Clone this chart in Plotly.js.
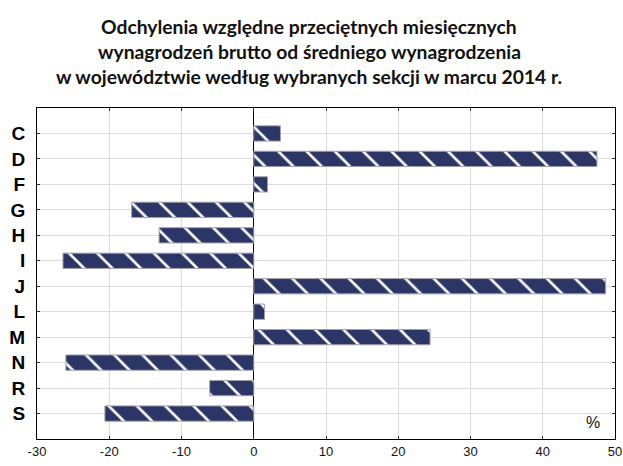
<!DOCTYPE html>
<html>
<head>
<meta charset="utf-8">
<script src="https://cdn.plot.ly/plotly-3.0.1.min.js"></script>
<style>html,body{margin:0;padding:0;background:#fff;}#chart{width:623px;height:466px;}</style>
</head>
<body>
<div id="chart"></div>
<script>
const sections = ["C","D","F","G","H","I","J","L","M","N","R","S"];
const deviations = [3.7, 47.5, 1.9, -16.9, -13.1, -26.4, 48.7, 1.5, 24.4, -26.0, -6.1, -20.6];
const xTicks = [-30,-20,-10,0,10,20,30,40,50];
const titleLines = [
  "Odchylenia względne przeciętnych miesięcznych",
  "wynagrodzeń brutto od średniego wynagrodzenia",
  "w województwie według wybranych sekcji w marcu 2014 r."
];

const trace = {
  type: "bar",
  orientation: "h",
  x: deviations,
  y: sections,
  width: 0.6,
  marker: {
    color: "#2B3566",
    line: {color: "#A0A0A8", width: 1},
    pattern: {shape: "\\", fgcolor: "#ffffff", bgcolor: "#2B3566", size: 20, solidity: 0.13}
  },
  hoverinfo: "skip"
};

// title lines placed as centred text rows above the plot
const plotTop = 108, plotBottom = 439;
const titleRows = [27, 51.5, 76.2];
const titleAnnotations = titleLines.map((t, i) => ({
  text: "<b>" + t + "</b>",
  xref: "paper", yref: "paper",
  x: (309 - 37) / (615 - 37),
  y: (plotBottom - titleRows[i]) / (plotBottom - plotTop),
  xanchor: "center", yanchor: "middle", showarrow: false,
  font: {family: "Lato, 'Open Sans', sans-serif", size: 19.3, color: "#111"}
}));

const layout = {
  width: 623, height: 466,
  margin: {l: 37, r: 8, t: 108, b: 27, pad: 0},
  paper_bgcolor: "#fff", plot_bgcolor: "#fff",
  showlegend: false,
  xaxis: {
    range: [-30, 50],
    tickvals: xTicks, ticktext: xTicks.map(String),
    showgrid: true, gridcolor: "#DCDCDC", gridwidth: 1,
    zeroline: true, zerolinecolor: "#000", zerolinewidth: 1,
    showline: true, linecolor: "#000", linewidth: 1, mirror: "ticks",
    ticks: "inside", ticklen: 3, tickcolor: "#333",
    tickfont: {family: "Liberation Sans, Arial, sans-serif", size: 13, color: "#111"},
    fixedrange: true
  },
  yaxis: {
    type: "category",
    categoryorder: "array", categoryarray: sections,
    range: [12, -1],
    showgrid: true, gridcolor: "#DCDCDC", gridwidth: 1,
    showline: true, linecolor: "#000", linewidth: 1, mirror: "ticks",
    ticks: "inside", ticklen: 3, tickcolor: "#333",
    ticklabelstandoff: 7,
    tickfont: {family: "Liberation Sans, Arial, sans-serif", size: 19, color: "#000", weight: "bold"},
    fixedrange: true
  },
  annotations: titleAnnotations.concat([{
    text: "%", xref: "paper", yref: "paper", x: 0.962, y: 0.05,
    xanchor: "center", yanchor: "middle", showarrow: false,
    font: {family: "Liberation Sans, Arial, sans-serif", size: 16, color: "#111"}
  }])
};

Plotly.newPlot("chart", [trace], layout, {displayModeBar: false, staticPlot: true});
</script>
</body>
</html>
